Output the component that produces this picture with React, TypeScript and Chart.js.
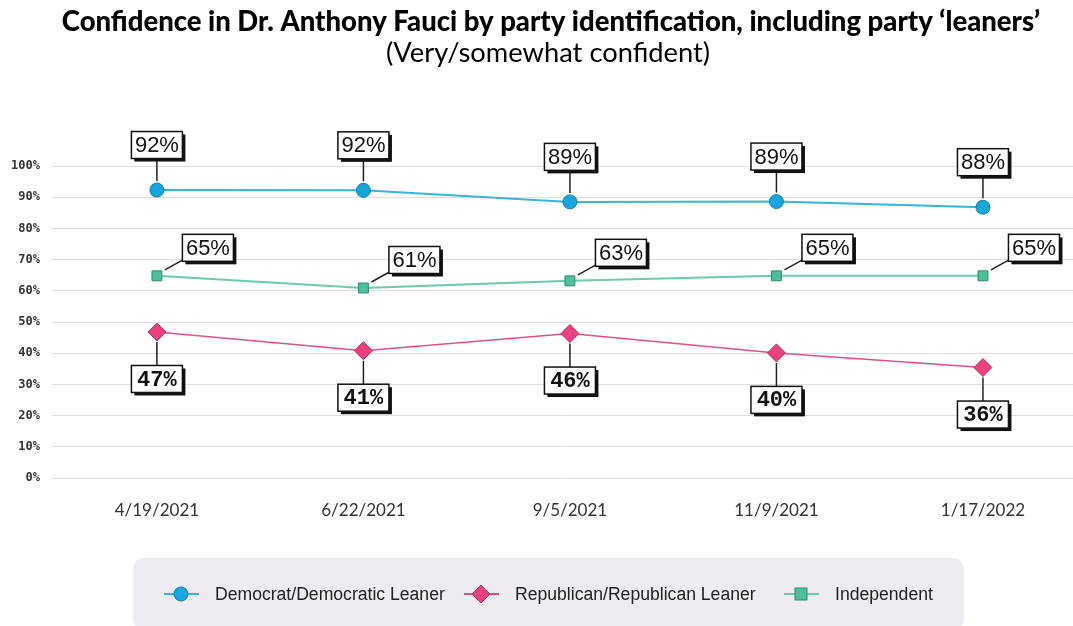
import React, { useEffect, useRef } from "react";
import { Chart, registerables } from "chart.js";

Chart.register(...registerables);

const dates = ["4/19/2021", "6/22/2021", "9/5/2021", "11/9/2021", "1/17/2022"];
const demValues = [92.3, 92.2, 88.5, 88.6, 86.8];
const repValues = [46.8, 40.8, 46.3, 40.1, 35.4];
const indValues = [64.8, 60.9, 63.2, 64.8, 64.8];
const demLabels = ["92%", "92%", "89%", "89%", "88%"];
const repLabels = ["47%", "41%", "46%", "40%", "36%"];
const indLabels = ["65%", "61%", "63%", "65%", "65%"];
const yTicks = [0, 10, 20, 30, 40, 50, 60, 70, 80, 90, 100];

const seriesNames = ["Democrat/Democratic Leaner", "Republican/Republican Leaner", "Independent"];

const W = 1073;
const H = 626;

function drawBox(ctx: CanvasRenderingContext2D, cx: number, cy: number, text: string, font: string) {
  const w = 51;
  const h = 27;
  const x = cx - w / 2;
  const y = cy - h / 2;
  ctx.save();
  ctx.fillStyle = "#111";
  ctx.fillRect(x + 3, y + 3, w, h);
  ctx.fillStyle = "#fff";
  ctx.fillRect(x, y, w, h);
  ctx.strokeStyle = "#111";
  ctx.lineWidth = 1.5;
  ctx.strokeRect(x, y, w, h);
  ctx.fillStyle = "#111";
  ctx.font = font;
  ctx.textAlign = "center";
  ctx.textBaseline = "middle";
  ctx.fillText(text, cx, cy + 1);
  ctx.restore();
}

const labelPlugin = {
  id: "boxLabels",
  afterDatasetsDraw(chart: any) {
    const ctx: CanvasRenderingContext2D = chart.ctx;
    const sans = "22px 'Liberation Sans', Arial, sans-serif";
    const mono = "bold 22px 'Liberation Mono', 'DejaVu Sans Mono', monospace";
    // Democrat: above
    chart.getDatasetMeta(0).data.forEach((p: any, i: number) => {
      const cy = p.y - 45;
      ctx.save();
      ctx.strokeStyle = "#222";
      ctx.lineWidth = 1.5;
      ctx.beginPath();
      ctx.moveTo(p.x, cy + 13);
      ctx.lineTo(p.x, p.y - 9);
      ctx.stroke();
      ctx.restore();
      drawBox(ctx, p.x, cy, demLabels[i], sans);
    });
    // Republican: below
    chart.getDatasetMeta(1).data.forEach((p: any, i: number) => {
      const cy = p.y + 47;
      ctx.save();
      ctx.strokeStyle = "#222";
      ctx.lineWidth = 1.5;
      ctx.beginPath();
      ctx.moveTo(p.x, p.y + 10);
      ctx.lineTo(p.x, cy - 13);
      ctx.stroke();
      ctx.restore();
      drawBox(ctx, p.x, cy, repLabels[i], mono);
    });
    // Independent: upper right
    chart.getDatasetMeta(2).data.forEach((p: any, i: number) => {
      const cx = p.x + 51;
      const cy = p.y - 28;
      ctx.save();
      ctx.strokeStyle = "#222";
      ctx.lineWidth = 1.5;
      ctx.beginPath();
      ctx.moveTo(p.x + 8, p.y - 6);
      ctx.lineTo(cx - 25, cy + 12);
      ctx.stroke();
      ctx.restore();
      drawBox(ctx, cx, cy, indLabels[i], sans);
    });
  },
};

function roundRect(ctx: CanvasRenderingContext2D, x: number, y: number, w: number, h: number, r: number) {
  ctx.beginPath();
  ctx.moveTo(x + r, y);
  ctx.lineTo(x + w - r, y);
  ctx.quadraticCurveTo(x + w, y, x + w, y + r);
  ctx.lineTo(x + w, y + h - r);
  ctx.quadraticCurveTo(x + w, y + h, x + w - r, y + h);
  ctx.lineTo(x + r, y + h);
  ctx.quadraticCurveTo(x, y + h, x, y + h - r);
  ctx.lineTo(x, y + r);
  ctx.quadraticCurveTo(x, y, x + r, y);
  ctx.closePath();
}

const decorPlugin = {
  id: "decor",
  afterDraw(chart: any) {
    const ctx: CanvasRenderingContext2D = chart.ctx;
    ctx.save();
    // Title
    ctx.fillStyle = "#000";
    ctx.textAlign = "center";
    ctx.textBaseline = "middle";
    ctx.font = "900 27.5px Lato, sans-serif";
    ctx.fillText("Confidence in Dr. Anthony Fauci by party identification, including party \u2018leaners\u2019", 551, 22);
    ctx.font = "27.3px Lato, sans-serif";
    ctx.fillText("(Very/somewhat confident)", 548, 53);

    // Legend box
    ctx.fillStyle = "#efebf2";
    roundRect(ctx, 133, 558, 831, 72, 12);
    ctx.fill();

    const items = [
      { x: 164, text: seriesNames[0], ds: 0 },
      { x: 464, text: seriesNames[1], ds: 1 },
      { x: 784, text: seriesNames[2], ds: 2 },
    ];
    const y = 594;
    items.forEach((it) => {
      const d = chart.data.datasets[it.ds];
      ctx.strokeStyle = d.borderColor;
      ctx.lineWidth = 2;
      ctx.beginPath();
      ctx.moveTo(it.x, y);
      ctx.lineTo(it.x + 35, y);
      ctx.stroke();
      ctx.fillStyle = d.pointBackgroundColor;
      ctx.strokeStyle = d.pointBorderColor;
      ctx.lineWidth = 1;
      const cx = it.x + 17;
      if (d.pointStyle === "circle") {
        ctx.beginPath();
        ctx.arc(cx, y, 7, 0, Math.PI * 2);
        ctx.fill();
        ctx.stroke();
      } else if (d.pointStyle === "rectRot") {
        ctx.beginPath();
        ctx.moveTo(cx, y - 9);
        ctx.lineTo(cx + 9, y);
        ctx.lineTo(cx, y + 9);
        ctx.lineTo(cx - 9, y);
        ctx.closePath();
        ctx.fill();
        ctx.stroke();
      } else {
        ctx.fillRect(cx - 6, y - 6, 12, 12);
        ctx.strokeRect(cx - 6, y - 6, 12, 12);
      }
      ctx.fillStyle = "#222";
      ctx.textAlign = "left";
      ctx.font = "17.6px 'Liberation Sans', Arial, sans-serif";
      ctx.fillText(it.text, it.x + 51, y + 1);
    });
    ctx.restore();
  },
};

export default function App() {
  const ref = useRef<HTMLCanvasElement | null>(null);
  useEffect(() => {
    document.body.style.margin = "0";
    const canvas = ref.current!;
    const toXY = (vals: number[]) => vals.map((v, i) => ({ x: i, y: v }));
    const chart = new Chart(canvas, {
      type: "line",
      data: {
        datasets: [
          {
            label: seriesNames[0],
            data: toXY(demValues),
            borderColor: "#3bb3dc",
            borderWidth: 2,
            pointStyle: "circle",
            pointRadius: 7,
            pointBackgroundColor: "#15a6dd",
            pointBorderColor: "#137fa8",
            pointBorderWidth: 1,
          },
          {
            label: seriesNames[1],
            data: toXY(repValues),
            borderColor: "#e0508a",
            borderWidth: 1.5,
            pointStyle: "rectRot",
            pointRadius: 9,
            pointBackgroundColor: "#ea3f80",
            pointBorderColor: "#b82d63",
            pointBorderWidth: 1,
          },
          {
            label: seriesNames[2],
            data: toXY(indValues),
            borderColor: "#6ccbae",
            borderWidth: 2,
            pointStyle: "rect",
            pointRadius: 7,
            pointBackgroundColor: "#4dbf9c",
            pointBorderColor: "#2f8a6e",
            pointBorderWidth: 1,
          },
        ],
      },
      options: {
        responsive: false,
        animation: false,
        layout: { autoPadding: false, padding: { top: 166, left: 0, right: 0, bottom: 0 } },
        plugins: {
          legend: { display: false },
          title: { display: false },
          tooltip: { enabled: false },
        },
        scales: {
          x: {
            type: "linear",
            min: -0.508,
            max: 4.436,
            afterBuildTicks: (scale: any) => {
              scale.ticks = dates.map((_, i) => ({ value: i }));
            },
            afterFit: (scale: any) => {
              scale.height = H - 478;
              scale.paddingLeft = 0;
              scale.paddingRight = 0;
            },
            grid: { display: false },
            border: { display: false },
            ticks: {
              padding: 14,
              color: "#333",
              font: { family: "Lato, sans-serif", size: 17 },
              callback: (v: any) => dates[v] ?? "",
            },
          },
          y: {
            min: 0,
            max: 100,
            afterBuildTicks: (scale: any) => {
              scale.ticks = yTicks.map((v) => ({ value: v }));
            },
            afterFit: (scale: any) => {
              scale.width = 52;
            },
            grid: { color: "#dedede", lineWidth: 1, drawTicks: false },
            border: { display: false },
            ticks: {
              padding: 12,
              color: "#333",
              font: { family: "'DejaVu Sans Mono', monospace", size: 12, weight: "bold" },
              callback: (v: any) => v + "%",
            },
          },
        },
      },
      plugins: [labelPlugin, decorPlugin],
    } as any);
    return () => chart.destroy();
  }, []);
  return <canvas ref={ref} width={W} height={H} style={{ display: "block" }} />;
}
